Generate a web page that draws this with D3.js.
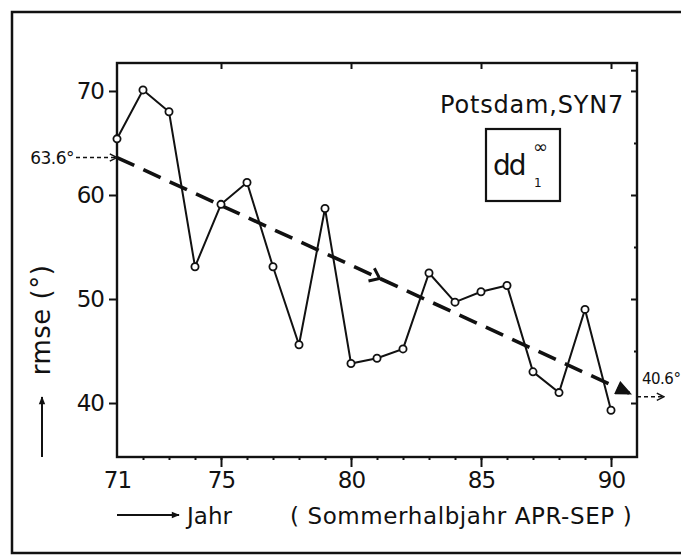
<!DOCTYPE html>
<html>
<head>
<meta charset="utf-8">
<script src="https://cdn.jsdelivr.net/npm/d3@7/dist/d3.min.js"></script>
<style>
  html, body { margin: 0; padding: 0; background: #fff; }
  svg { display: block; }
  text { font-family: "DejaVu Sans", sans-serif; fill: #111; }
</style>
</head>
<body>
<svg id="chart" width="681" height="556"></svg>
<script>
// Yearly rmse of wind direction (summer half-year), Potsdam SYN7
const years = [71, 72, 73, 74, 75, 76, 77, 78, 79, 80, 81, 82, 83, 84, 85, 86, 87, 88, 89, 90];
const rmse  = [65.4, 70.1, 68.0, 53.1, 59.1, 61.2, 53.1, 45.6, 58.7, 43.8, 44.3, 45.2, 52.5, 49.7, 50.7, 51.3, 43.0, 41.0, 49.0, 39.3];

// Linear trend end points as labelled
const trendYears  = [71, 91];
const trendValues = [63.6, 40.6];

const xTickLabels = [71, 75, 80, 85, 90];
const yTickLabels = [40, 50, 60, 70];

const svg = d3.select("#chart");
const ink = "#111";

const plot = { left: 117, right: 637, top: 63, bottom: 457 };
const x = d3.scaleLinear().domain([71, 91]).range([plot.left, plot.right]);
const y = d3.scaleLinear().domain([34.81, 72.69]).range([plot.bottom, plot.top]);

// arrow markers
const defs = svg.append("defs");
defs.append("marker").attr("id", "thinArrow")
  .attr("viewBox", "0 0 10 10").attr("refX", 9).attr("refY", 5)
  .attr("markerWidth", 9).attr("markerHeight", 9).attr("markerUnits", "userSpaceOnUse")
  .attr("orient", "auto")
  .append("path").attr("d", "M1,1 L9,5 L1,9").attr("fill", "none").attr("stroke", ink).attr("stroke-width", 1.6);
defs.append("marker").attr("id", "solidArrow")
  .attr("viewBox", "0 0 10 10").attr("refX", 9).attr("refY", 5)
  .attr("markerWidth", 10).attr("markerHeight", 8).attr("markerUnits", "userSpaceOnUse")
  .attr("orient", "auto")
  .append("path").attr("d", "M0,1 L10,5 L0,9 Z").attr("fill", ink);
defs.append("marker").attr("id", "trendHead")
  .attr("viewBox", "0 0 10 10").attr("refX", 9).attr("refY", 5)
  .attr("markerWidth", 17).attr("markerHeight", 14).attr("markerUnits", "userSpaceOnUse")
  .attr("orient", "auto")
  .append("path").attr("d", "M0,0.5 L10,5 L0,9.5 Z").attr("fill", ink).attr("stroke", ink).attr("stroke-width", 1);

// outer frame
svg.append("rect").attr("x", 12).attr("y", 12).attr("width", 700).attr("height", 541)
  .attr("fill", "none").attr("stroke", ink).attr("stroke-width", 2.5);

// plot box
svg.append("rect").attr("x", plot.left).attr("y", plot.top)
  .attr("width", plot.right - plot.left).attr("height", plot.bottom - plot.top)
  .attr("fill", "none").attr("stroke", ink).attr("stroke-width", 2.4);

function styleAxis(g) {
  g.select(".domain").remove();
  g.selectAll("line").attr("stroke", ink).attr("stroke-width", 2);
  g.selectAll("text").attr("fill", ink).style("font-size", "23px").style("letter-spacing", "-1px");
}

// x axis: year ticks (minor) and labelled ticks (major)
svg.append("g").attr("transform", `translate(0,${plot.bottom})`)
  .call(d3.axisBottom(x).tickValues(d3.range(72, 91)).tickSize(3).tickFormat(""))
  .call(styleAxis);
svg.append("g").attr("transform", `translate(0,${plot.bottom})`)
  .call(d3.axisBottom(x).tickValues(xTickLabels).tickSize(10).tickPadding(5).tickFormat(d3.format("d")))
  .call(styleAxis)
  .call(g => g.selectAll(".tick").filter(d => d === 71).select("line").remove());
// top axis ticks
svg.append("g").attr("transform", `translate(0,${plot.top})`)
  .call(d3.axisBottom(x).tickValues([75, 80, 85, 90]).tickSize(6).tickFormat(""))
  .call(styleAxis);

// y axis
svg.append("g").attr("transform", `translate(${plot.left},0)`)
  .call(d3.axisLeft(y).tickValues(yTickLabels).tickSize(8).tickPadding(5).tickFormat(d3.format("d")))
  .call(styleAxis);
// right axis inner ticks
svg.append("g").attr("transform", `translate(${plot.right},0)`)
  .call(d3.axisRight(y).tickValues(yTickLabels.concat([72])).tickSize(-6).tickFormat(""))
  .call(styleAxis);
svg.append("g").attr("transform", `translate(${plot.right},0)`)
  .call(d3.axisRight(y).tickValues([45, 55, 65]).tickSize(-3).tickFormat(""))
  .call(styleAxis);

// trend line (dashed) with arrow heads
const tx0 = x(trendYears[0]), ty0 = y(trendValues[0]);
const tx1 = x(trendYears[1]), ty1 = y(trendValues[1]);
const trendAt = yr => trendValues[0] + (trendValues[1] - trendValues[0]) * (yr - trendYears[0]) / (trendYears[1] - trendYears[0]);
svg.append("line")
  .attr("x1", tx0).attr("y1", ty0)
  .attr("x2", x(90.7)).attr("y2", y(trendAt(90.7)))
  .attr("stroke", ink).attr("stroke-width", 3.6)
  .attr("stroke-dasharray", "19,10")
  .attr("marker-end", "url(#trendHead)");
// chevron on the middle of the trend
{
  const ang = Math.atan2(y(trendAt(82)) - y(trendAt(80)), x(82) - x(80)) * 180 / Math.PI;
  svg.append("path")
    .attr("d", "M-9,-7 L0,0 L-9,7")
    .attr("transform", `translate(${x(81.1)},${y(trendAt(81.1))}) rotate(${ang})`)
    .attr("fill", "none").attr("stroke", ink).attr("stroke-width", 3);
}

// data line
const line = d3.line().x((d, i) => x(years[i])).y(d => y(d));
svg.append("path").datum(rmse)
  .attr("d", line).attr("fill", "none").attr("stroke", ink).attr("stroke-width", 2);
svg.selectAll("circle.pt").data(rmse).join("circle")
  .attr("class", "pt")
  .attr("cx", (d, i) => x(years[i])).attr("cy", d => y(d))
  .attr("r", 3.6).attr("fill", "#fff").attr("stroke", ink).attr("stroke-width", 1.8);

// trend start / end annotations
svg.append("line")
  .attr("x1", 76).attr("y1", ty0).attr("x2", tx0).attr("y2", ty0)
  .attr("stroke", ink).attr("stroke-width", 1.4).attr("stroke-dasharray", "4,3")
  .attr("marker-end", "url(#thinArrow)");
svg.append("text").attr("x", 74).attr("y", ty0 + 6).attr("text-anchor", "end")
  .style("font-size", "17px").style("letter-spacing", "-0.5px")
  .text(d3.format(".1f")(trendValues[0]) + "°");
svg.append("line")
  .attr("x1", tx1).attr("y1", ty1).attr("x2", 664).attr("y2", ty1)
  .attr("stroke", ink).attr("stroke-width", 1.4).attr("stroke-dasharray", "4,3")
  .attr("marker-end", "url(#thinArrow)");
svg.append("text").attr("x", 642).attr("y", ty1 - 13)
  .style("font-size", "15px").style("letter-spacing", "-0.5px")
  .text(d3.format(".1f")(trendValues[1]) + "°");

// station label and parameter box
svg.append("text").attr("x", 624).attr("y", 113).attr("text-anchor", "end")
  .style("font-size", "24px").style("letter-spacing", "0.8px").text("Potsdam,SYN7");
svg.append("rect").attr("x", 486).attr("y", 129).attr("width", 74).attr("height", 72)
  .attr("fill", "none").attr("stroke", ink).attr("stroke-width", 2.2);
svg.append("text").attr("x", 493).attr("y", 175).style("font-size", "28px").style("letter-spacing", "-2px").text("dd");
svg.append("text").attr("x", 534).attr("y", 187).style("font-size", "12px").text("1");
svg.append("text").attr("x", 533).attr("y", 153).style("font-size", "18px").text("∞");

// y axis title with arrow
svg.append("text")
  .attr("transform", "translate(50,320) rotate(-90)")
  .attr("text-anchor", "middle").style("font-size", "26px").style("letter-spacing", "0.5px").text("rmse (°)");
svg.append("line").attr("x1", 42).attr("y1", 457).attr("x2", 42).attr("y2", 397)
  .attr("stroke", ink).attr("stroke-width", 2).attr("marker-end", "url(#solidArrow)");

// x axis title with arrow
svg.append("line").attr("x1", 117).attr("y1", 515).attr("x2", 179).attr("y2", 515)
  .attr("stroke", ink).attr("stroke-width", 2).attr("marker-end", "url(#solidArrow)");
svg.append("text").attr("x", 187).attr("y", 524).style("font-size", "23px").text("Jahr");
svg.append("text").attr("x", 290).attr("y", 524).style("font-size", "23px").style("letter-spacing", "0.6px")
  .text("( Sommerhalbjahr APR-SEP )");
</script>
</body>
</html>
